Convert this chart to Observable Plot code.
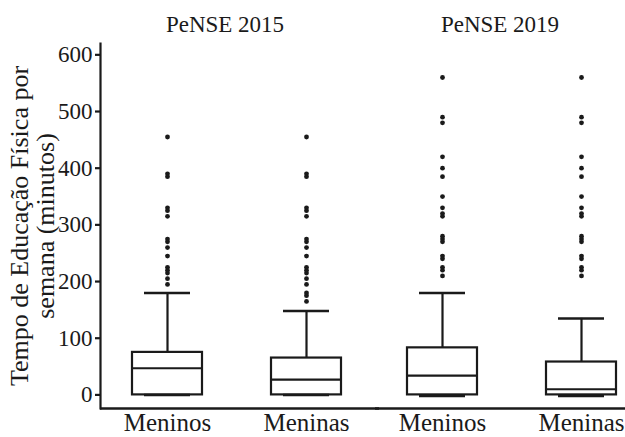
<!DOCTYPE html>
<html><head><meta charset="utf-8">
<script src="https://cdn.jsdelivr.net/npm/d3@7"></script>
<script src="https://cdn.jsdelivr.net/npm/@observablehq/plot@0.6"></script>
<style>
body{margin:0;background:#fff}
#chart g[aria-label="y-axis tick"], #chart g[aria-label="y-axis line"], #chart g[aria-label="frame"] { stroke-width: 2.2px; }
</style>
</head><body><div id="chart"></div>
<script>
const years = ["PeNSE 2015", "PeNSE 2015", "PeNSE 2019", "PeNSE 2019"];
const groups = ["Meninos", "Meninas", "Meninos", "Meninas"];
const q1 = [0, 0, 0, 0];
const medians = [47, 27, 34, 10];
const q3 = [75, 65, 83, 58];
const whiskerLow = [0, 0, -2, -2];
const whiskerHigh = [180, 148, 180, 135];
const outliersMeninos2015 = [455, 390, 385, 330, 325, 315, 275, 270, 260, 245, 225, 220, 215, 205, 195];
const outliersMeninas2015 = [455, 390, 385, 330, 325, 315, 275, 270, 260, 245, 225, 220, 215, 205, 195, 180, 175, 165];
const outliersMeninos2019 = [560, 490, 480, 420, 400, 385, 350, 330, 320, 315, 280, 275, 270, 245, 240, 225, 220, 210];
const outliersMeninas2019 = [560, 490, 480, 420, 400, 385, 350, 330, 320, 315, 280, 275, 270, 245, 240, 225, 220, 210];
const yTicks = [0, 100, 200, 300, 400, 500, 600];
const yLabel = "Tempo de Educação Física por\nsemana (minutos)";

const outliers = [outliersMeninos2015, outliersMeninas2015, outliersMeninos2019, outliersMeninas2019];
const boxes = groups.map((g, i) => ({year: years[i], group: g, q1: q1[i], median: medians[i], q3: q3[i], lo: whiskerLow[i], hi: whiskerHigh[i]}));
const points = outliers.flatMap((vals, i) => vals.map(v => ({year: years[i], group: groups[i], value: v})));
const labelData = [{year: years[0], text: yLabel}];

const ink = "#1a1a1a";
const plot = Plot.plot({
  width: 625, height: 437,
  marginLeft: 100, marginRight: 0, marginTop: 43, marginBottom: 29,
  style: {fontFamily: "'Liberation Serif', serif", fontSize: "23px", color: ink, background: "#fff"},
  fx: {domain: ["PeNSE 2015", "PeNSE 2019"], paddingInner: 0.0944, paddingOuter: 0, label: null},
  x: {domain: ["Meninos", "Meninas"], paddingInner: 0.5, paddingOuter: 0.141, align: 0.78, label: null},
  y: {domain: [-24, 620], ticks: yTicks, tickSize: 5, tickPadding: 3, line: true, label: null},
  marks: [
    Plot.axisFx({anchor: "top", tickSize: 0, tickPadding: 12, fontSize: 23, label: null}),
    Plot.axisX({anchor: "bottom", tickSize: 0, tickPadding: 5, fontSize: 25, label: null}),
    Plot.text(labelData, {fx: "year", text: "text", frameAnchor: "left", textAnchor: "middle", lineAnchor: "middle", rotate: -90, dx: -68, fontSize: 26, lineHeight: 1, fill: ink}),
    Plot.ruleY([-24], {stroke: ink, strokeWidth: 2.5, insetRight: -30}),
    Plot.ruleX(boxes, {x: "group", fx: "year", y1: "lo", y2: "hi", stroke: ink, strokeWidth: 2.2}),
    Plot.barY(boxes, {x: "group", fx: "year", y1: "q1", y2: "q3", fill: "white", stroke: ink, strokeWidth: 2.2}),
    Plot.tickY(boxes, {x: "group", fx: "year", y: "median", stroke: ink, strokeWidth: 2.2}),
    Plot.tickY(boxes, {x: "group", fx: "year", y: "hi", stroke: ink, strokeWidth: 2.5, insetLeft: 12, insetRight: 12}),
    Plot.tickY(boxes, {x: "group", fx: "year", y: "lo", stroke: ink, strokeWidth: 2.5, insetLeft: 12, insetRight: 12}),
    Plot.dot(points, {x: "group", fx: "year", y: "value", r: 2.4, fill: ink, stroke: "none"})
  ]
});
document.getElementById("chart").appendChild(plot);
</script>
</body></html>
